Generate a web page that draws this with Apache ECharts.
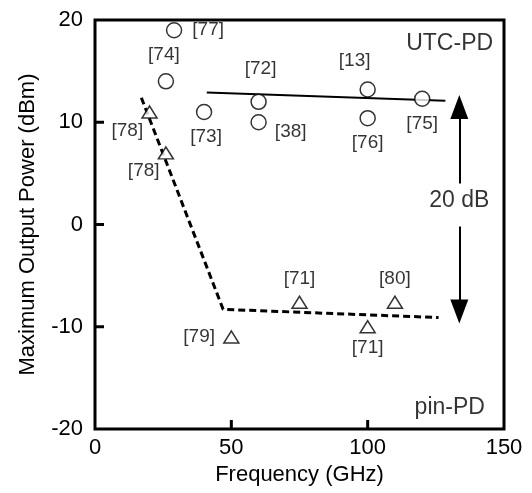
<!DOCTYPE html>
<html>
<head>
<meta charset="utf-8">
<script src="https://cdn.jsdelivr.net/npm/echarts@6/dist/echarts.min.js"></script>
<style>html,body{margin:0;padding:0;background:#fff}#c{width:532px;height:493px}</style>
</head>
<body>
<div id="c"></div>
<script>
// ---- data ----
var xTicks = [0, 50, 100, 150];
var yTicks = [-20, -10, 0, 10, 20];
var utcX = [29, 26, 40, 60, 60, 100, 100, 120];
var utcY = [19, 14, 11, 12, 10, 13.2, 10.4, 12.3];
var utcRef = ['[77]', '[74]', '[73]', '[72]', '[38]', '[13]', '[76]', '[75]'];
var pinX = [20, 26, 50, 75, 100, 110];
var pinY = [11, 7, -11, -7.6, -10, -7.6];
var pinRef = ['[78]', '[78]', '[79]', '[71]', '[71]', '[80]'];
var utcFitX = [41, 128.5];
var utcFitY = [12.9, 12.1];
var pinFitX = [17, 47, 126];
var pinFitY = [12.4, -8.3, -9.1];
var arrowX = 133.6;
var upArrowY = [4.0, 11.5];
var downArrowY = [-0.2, -8.5];
var texts = ['UTC-PD', 'pin-PD', '20 dB'];
var textX = [146, 143, 133.6];
var textY = [17.7, -17.9, 2.3];

// ---- label placement styles ----
var utcLbl = [
  {position: 'right', distance: 10, offset: [0, 0]},
  {position: 'top', distance: 9, offset: [-2, 0]},
  {position: 'bottom', distance: 7, offset: [2, 0]},
  {position: 'top', distance: 15, offset: [2, 0]},
  {position: 'right', distance: 8, offset: [0, 10]},
  {position: 'top', distance: 11, offset: [-13, 0]},
  {position: 'bottom', distance: 7, offset: [0, 0]},
  {position: 'bottom', distance: 7, offset: [0, 0]}
];
var pinLbl = [
  {position: 'left', distance: 6, offset: [8, 19]},
  {position: 'left', distance: 6, offset: [8, 18]},
  {position: 'left', distance: 8, offset: [0, 0]},
  {position: 'top', distance: 7, offset: [0, 0]},
  {position: 'bottom', distance: 5, offset: [0, 0]},
  {position: 'top', distance: 7, offset: [0, 0]}
];

var FONT = '"Liberation Sans", Arial, Helvetica, sans-serif';
var BLACK = '#000';
var TICK_LEN = 9;

function pts(xs, ys) { return xs.map(function (x, i) { return [x, ys[i]]; }); }

var xMin = xTicks[0], yMin = yTicks[0];
var xMax = xTicks[xTicks.length - 1], yMax = yTicks[yTicks.length - 1];

// tick marks drawn through the axes' own scale (api.coord)
var tickData = xTicks.slice(1, -1).map(function (v) { return [v, yMin, 0]; })
  .concat(yTicks.slice(1, -1).map(function (v) { return [xMin, v, 1]; }));

var utcData = utcX.map(function (x, i) {
  return {value: [x, utcY[i]], label: Object.assign({show: true, formatter: utcRef[i]}, utcLbl[i])};
});
var pinData = pinX.map(function (x, i) {
  return {value: [x, pinY[i]], label: Object.assign({show: true, formatter: pinRef[i]}, pinLbl[i])};
});
var textData = texts.map(function (t, i) {
  return {
    value: [textX[i], textY[i]],
    label: {show: true, formatter: t, position: 'inside', align: i < 2 ? 'right' : 'center', verticalAlign: 'middle', fontSize: 23}
  };
});

var labelStyle = {color: BLACK, fontFamily: FONT, fontSize: 19};

function mainAxis(extra) {
  return Object.assign({
    type: 'value',
    axisLine: {show: false, onZero: false},
    axisTick: {show: false},
    splitLine: {show: false}
  }, extra);
}

var option = {
  animation: false,
  backgroundColor: '#fff',
  grid: {left: 95, right: 28, top: 20, bottom: 64, show: true, borderColor: BLACK, borderWidth: 3, backgroundColor: 'rgba(0,0,0,0)'},
  xAxis: mainAxis({
    position: 'bottom', min: xMin, max: xMax, interval: 50,
    name: 'Frequency (GHz)', nameLocation: 'middle', nameGap: 30,
    nameTextStyle: {color: BLACK, fontFamily: FONT, fontSize: 22},
    axisLabel: {color: BLACK, fontFamily: FONT, fontSize: 22, margin: 8, formatter: function (v) { return xTicks.indexOf(v) >= 0 ? String(v) : ''; }}
  }),
  yAxis: mainAxis({
    position: 'left', min: yMin, max: yMax, interval: 10,
    name: 'Maximum Output Power (dBm)', nameLocation: 'middle', nameGap: 56,
    nameTextStyle: {color: BLACK, fontFamily: FONT, fontSize: 22},
    axisLabel: {color: BLACK, fontFamily: FONT, fontSize: 22, margin: 12, formatter: function (v) { return yTicks.indexOf(v) >= 0 ? String(v) : ''; }}
  }),
  series: [
    {
      type: 'custom', data: tickData, clip: false, silent: true, z: 5,
      encode: {x: 0, y: 1},
      renderItem: function (params, api) {
        var p = api.coord([api.value(0), api.value(1)]);
        var vertical = api.value(2) === 0;
        return {
          type: 'line',
          shape: vertical
            ? {x1: p[0], y1: p[1], x2: p[0], y2: p[1] - TICK_LEN}
            : {x1: p[0], y1: p[1], x2: p[0] + TICK_LEN, y2: p[1]},
          style: {stroke: BLACK, lineWidth: 3}
        };
      }
    },
    {
      type: 'line', data: pts(utcFitX, utcFitY), symbol: 'none',
      lineStyle: {color: BLACK, width: 2}, z: 2
    },
    {
      type: 'line', data: pts(pinFitX, pinFitY), symbol: 'none',
      lineStyle: {color: BLACK, width: 3, type: [7, 4]}, z: 2
    },
    {
      type: 'scatter', data: utcData, symbol: 'circle', symbolSize: 15,
      itemStyle: {color: '#fff', borderColor: BLACK, borderWidth: 1.5},
      label: labelStyle, z: 3
    },
    {
      type: 'scatter', data: pinData, symbol: 'triangle', symbolSize: [15, 12],
      itemStyle: {color: '#fff', borderColor: BLACK, borderWidth: 1.5},
      label: labelStyle, z: 3
    },
    {
      type: 'scatter', data: textData, symbolSize: 0,
      label: {color: BLACK, fontFamily: FONT}, z: 4,
      markLine: {
        silent: true, animation: false,
        symbol: ['none', 'triangle'], symbolSize: [18, 24],
        label: {show: false},
        lineStyle: {color: BLACK, width: 2, type: 'solid'},
        itemStyle: {color: BLACK},
        data: [
          [{coord: [arrowX, upArrowY[0]]}, {coord: [arrowX, upArrowY[1]]}],
          [{coord: [arrowX, downArrowY[0]]}, {coord: [arrowX, downArrowY[1]]}]
        ]
      }
    }
  ]
};

var chart = echarts.init(document.getElementById('c'), null, {renderer: 'canvas'});
chart.setOption(option);
</script>
</body>
</html>
